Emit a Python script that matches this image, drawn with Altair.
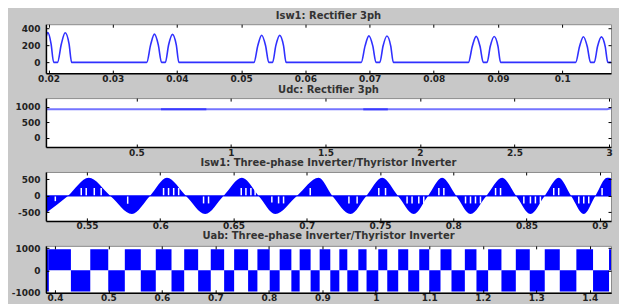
import altair as alt
import pandas as pd

FONT = "DejaVu Sans"
BLUE = "#0000ff"
PW = 566

# ---------- panel 1: Isw1: Rectifier 3ph ----------
isw_t = [0.0196, 0.0199, 0.0204, 0.0208, 0.0214, 0.0220, 0.0226, 0.0232, 0.0236,
         0.0353, 0.0359, 0.0365, 0.0371, 0.0376, 0.0382, 0.0387, 0.0393, 0.0399, 0.0403,
         0.0520, 0.0526, 0.0532, 0.0538, 0.0543, 0.0549, 0.0554, 0.0560, 0.0566, 0.0570,
         0.0687, 0.0693, 0.0699, 0.0705, 0.0710, 0.0716, 0.0721, 0.0727, 0.0733, 0.0737,
         0.0854, 0.0860, 0.0866, 0.0872, 0.0877, 0.0883, 0.0888, 0.0894, 0.0900, 0.0904,
         0.1021, 0.1027, 0.1033, 0.1039, 0.1044, 0.1050, 0.1055, 0.1061, 0.1067, 0.1071,
         0.1076]
isw_v = [300, 352, 220, 0, 0, 218, 350, 218, 0,
         0, 207, 334, 207, 0, 0, 206, 332, 206, 0,
         0, 200, 322, 200, 0, 0, 198, 320, 198, 0,
         0, 195, 314, 195, 0, 0, 193, 312, 193, 0,
         0, 191, 308, 191, 0, 0, 190, 306, 190, 0,
         0, 188, 304, 188, 0, 0, 187, 302, 187, 0,
         0]
isw_xticks = [0.02, 0.03, 0.04, 0.05, 0.06, 0.07, 0.08, 0.09, 0.1]
isw_yticks = [0, 200, 400]
isw_xdom = [0.0196, 0.1076]
isw_ydom = [-128, 452]

# ---------- panel 2: Udc: Rectifier 3ph ----------
udc_t = [0.0214, 0.62, 0.64, 0.86, 0.88, 1.69, 1.71, 1.82, 1.84, 2.99, 3.0106]
udc_v = [922, 922, 916, 916, 922, 922, 917, 917, 922, 922, 950]
udc_dark_start = [0.63, 1.70]
udc_dark_end = [0.87, 1.83]
udc_dark_v = [916, 917]
udc_xticks = [0.5, 1, 1.5, 2, 2.5, 3]
udc_yticks = [0, 500, 1000]
udc_xdom = [0.0214, 3.0106]
udc_ydom = [-300, 1280]

# ---------- panel 3: Isw1: Three-phase Inverter/Thyristor Inverter ----------
inv_t = [0.5220, 0.5370, 0.5512, 0.5660, 0.5807, 0.5930, 0.6046, 0.6176,
         0.6307, 0.6432, 0.6558, 0.6672, 0.6785, 0.6933, 0.7081, 0.7175,
         0.7299, 0.7407, 0.7515, 0.7623, 0.7731, 0.7828, 0.7924, 0.8021,
         0.8118, 0.8226, 0.8334, 0.8430, 0.8527, 0.8624, 0.8720, 0.8805,
         0.8891, 0.8970, 0.9050, 0.9077]
inv_v = [-520, 0, 550, 0, -550, 0, 550, 0,
         -550, 0, 550, 0, -550, 0, 550, 0,
         -550, 0, 550, 0, -550, 0, 550, 0,
         -550, 0, 550, 0, -550, 0, 550, 0,
         -550, 0, 550, 540]
notch_t = [0.5284, 0.5461, 0.5495, 0.5550, 0.5597, 0.5778,
           0.6023, 0.6057, 0.6092, 0.6126, 0.6296, 0.6330, 0.6433,
           0.6553, 0.6585, 0.6619, 0.6648, 0.6762, 0.6808, 0.6842,
           0.7024, 0.7288, 0.7344, 0.7492, 0.7538,
           0.7685, 0.7719, 0.7765, 0.7799, 0.7902, 0.7936,
           0.8084, 0.8118, 0.8152, 0.8186, 0.8289, 0.8323,
           0.8482, 0.8527, 0.8561, 0.8595, 0.8686, 0.8720,
           0.8857, 0.8891, 0.8925, 0.9016]
notch_e = [-160, 240, 240, 240, 240, -240,
           240, 240, 240, 240, -230, -230, -150,
           240, 240, 240, 240, -200, -230, -230,
           240, -230, -230, 240, 240,
           -230, -230, -230, -230, 240, 240,
           -230, -230, -230, -230, 240, 240,
           -230, -230, -230, -230, 240, 240,
           -230, -230, -230, 240]
inv_xticks = [0.55, 0.6, 0.65, 0.7, 0.75, 0.8, 0.85, 0.9]
inv_yticks = [-500, 0, 500]
inv_xdom = [0.522, 0.9077]
inv_ydom = [-762, 728]

# ---------- panel 4: Uab: Three-phase Inverter/Thyristor Inverter ----------
uab_edges = [0.3888, 0.4299, 0.4661, 0.4997, 0.5307, 0.5606, 0.5886, 0.6180,
             0.6417, 0.6678, 0.6914, 0.7164, 0.7351, 0.7612, 0.7786, 0.8016,
             0.8202, 0.8421, 0.8576, 0.8781, 0.8950, 0.9149, 0.9318, 0.9467,
             0.9673, 0.9827, 1.0046, 1.0214, 1.0419, 1.0606, 1.0812, 1.0999,
             1.1210, 1.1415, 1.1665, 1.1882, 1.2100, 1.2349, 1.2618, 1.2879,
             1.3159, 1.3440, 1.3750, 1.4062, 1.4361, 1.4400]
uab_levels = [950, -950, 950, -950, 950, -950, 950, -950, 950, -950,
              950, -950, 950, -950, 950, -950, 950, -950, 950, -950,
              950, -950, 950, -950, 950, -950, 950, -950, 950, -950,
              950, -950, 950, -950, 950, -950, 950, -950, 950, -950,
              950, -950, 950, -950, 950]
uab_dense_start = [0.3832]
uab_dense_end = [0.3886]
uab_dense_lo = [-950]
uab_dense_hi = [950]
uab_xticks = [0.4, 0.5, 0.6, 0.7, 0.8, 0.9, 1, 1.1, 1.2, 1.3, 1.4]
uab_yticks = [-1000, 0, 1000]
uab_xdom = [0.3832, 1.4398]
uab_ydom = [-1005, 1100]


def label_axis(orient, vals, pad):
    return alt.Axis(orient=orient, values=vals, labelExpr="'' + datum.value",
                    ticks=False, domain=True, domainColor="#000000", domainWidth=1.5,
                    grid=False, labelPadding=pad, labelFlush=False, labelOverlap=False,
                    zindex=1, title=None)


def tick_axis(orient, vals):
    return alt.Axis(orient=orient, values=vals, labels=False, ticks=True, tickSize=3,
                    tickColor="#000000", tickWidth=1, offset=-3, domain=False,
                    grid=False, zindex=1, title=None)


def panel(title, main, df, xf, yf, xs, ys, xt, yt, h):
    ghost = alt.Chart(df).mark_point(opacity=0)
    g1 = ghost.encode(x=alt.X(xf, scale=xs, axis=tick_axis("bottom", xt)),
                      y=alt.Y(yf, scale=ys, axis=tick_axis("left", yt)))
    g2 = ghost.encode(x=alt.X(xf, scale=xs, axis=tick_axis("top", xt)),
                      y=alt.Y(yf, scale=ys, axis=tick_axis("right", yt)))
    return (alt.layer(*main, g1, g2)
            .resolve_axis(x="independent", y="independent")
            .properties(width=PW, height=h,
                        title=alt.TitleParams(title, frame="group")))


# panel 1
d1 = pd.DataFrame({"t": isw_t, "v": isw_v})
xs1 = alt.Scale(domain=isw_xdom, nice=False, zero=False)
ys1 = alt.Scale(domain=isw_ydom, nice=False, zero=False)
l1 = alt.Chart(d1).mark_line(color="#3030ff", strokeWidth=1.6, interpolate="monotone", clip=True).encode(
    x=alt.X("t:Q", scale=xs1, axis=label_axis("bottom", isw_xticks, 1)),
    y=alt.Y("v:Q", scale=ys1, axis=label_axis("left", isw_yticks, 6)))
p1 = panel("Isw1: Rectifier 3ph", [l1], d1, "t:Q", "v:Q", xs1, ys1, isw_xticks, isw_yticks, 49)

# panel 2
d2 = pd.DataFrame({"t": udc_t, "v": udc_v})
d2b = pd.DataFrame({"a": udc_dark_start, "b": udc_dark_end, "v": udc_dark_v})
xs2 = alt.Scale(domain=udc_xdom, nice=False, zero=False)
ys2 = alt.Scale(domain=udc_ydom, nice=False, zero=False)
l2 = alt.Chart(d2).mark_line(color="#7474ff", strokeWidth=2, clip=True).encode(
    x=alt.X("t:Q", scale=xs2, axis=label_axis("bottom", udc_xticks, 1)),
    y=alt.Y("v:Q", scale=ys2, axis=label_axis("left", udc_yticks, 6)))
l2b = alt.Chart(d2b).mark_rule(color="#3a3aff", strokeWidth=2, clip=True).encode(
    x=alt.X("a:Q", scale=xs2, axis=None), x2="b:Q",
    y=alt.Y("v:Q", scale=ys2, axis=None))
p2 = panel("Udc: Rectifier 3ph", [l2, l2b], d2, "t:Q", "v:Q", xs2, ys2, udc_xticks, udc_yticks, 49)

# panel 3
d3 = pd.DataFrame({"t": inv_t, "v": inv_v, "z": [0] * len(inv_t)})
d3n = pd.DataFrame({"t": notch_t, "e": notch_e, "z": [0] * len(notch_t)})
d3z = pd.DataFrame({"z": [0]})
xs3 = alt.Scale(domain=inv_xdom, nice=False, zero=False)
ys3 = alt.Scale(domain=inv_ydom, nice=False, zero=False)
a3 = alt.Chart(d3).mark_area(color=BLUE, interpolate="monotone", clip=True).encode(
    x=alt.X("t:Q", scale=xs3, axis=label_axis("bottom", inv_xticks, 1)),
    y=alt.Y("v:Q", scale=ys3, axis=label_axis("left", inv_yticks, 6)),
    y2="z:Q")
n3 = alt.Chart(d3n).mark_rule(color="white", strokeWidth=1.5, clip=True).encode(
    x=alt.X("t:Q", scale=xs3, axis=None),
    y=alt.Y("z:Q", scale=ys3, axis=None), y2="e:Q")
z3 = alt.Chart(d3z).mark_rule(color=BLUE, strokeWidth=1.5).encode(
    y=alt.Y("z:Q", scale=ys3, axis=None))
p3 = panel("Isw1: Three-phase Inverter/Thyristor Inverter", [a3, n3, z3], d3, "t:Q", "v:Q",
           xs3, ys3, inv_xticks, inv_yticks, 49)

# panel 4
t0 = uab_dense_start + uab_edges[:-1]
t1 = uab_dense_end + uab_edges[1:]
lo = uab_dense_lo + [min(0, v) for v in uab_levels]
hi = uab_dense_hi + [max(0, v) for v in uab_levels]
d4 = pd.DataFrame({"t0": t0, "t1": t1, "lo": lo, "hi": hi})
xs4 = alt.Scale(domain=uab_xdom, nice=False, zero=False)
ys4 = alt.Scale(domain=uab_ydom, nice=False, zero=False)
r4 = alt.Chart(d4).mark_rect(color=BLUE, clip=True).encode(
    x=alt.X("t0:Q", scale=xs4, axis=label_axis("bottom", uab_xticks, 1)), x2="t1:Q",
    y=alt.Y("lo:Q", scale=ys4, axis=label_axis("left", uab_yticks, 6)), y2="hi:Q")
p4 = panel("Uab: Three-phase Inverter/Thyristor Inverter", [r4], d4, "t0:Q", "hi:Q",
           xs4, ys4, uab_xticks, uab_yticks, 47)

chart = (alt.vconcat(p1, p2, p3, p4, spacing=25, bounds="flush")
         .configure(background="#c8c8c8",
                    padding={"left": 2, "top": 2, "right": 4, "bottom": 0})
         .configure_view(fill="white", stroke="#8c8c8c", strokeWidth=1)
         .configure_axis(labelFont=FONT, labelFontSize=9, labelFontWeight="bold",
                         labelColor="#222222")
         .configure_title(font=FONT, fontSize=10, fontWeight="bold", color="#333333",
                          offset=3, anchor="middle"))

chart.save("out.html", embed_options={"renderer": "svg", "actions": False})
